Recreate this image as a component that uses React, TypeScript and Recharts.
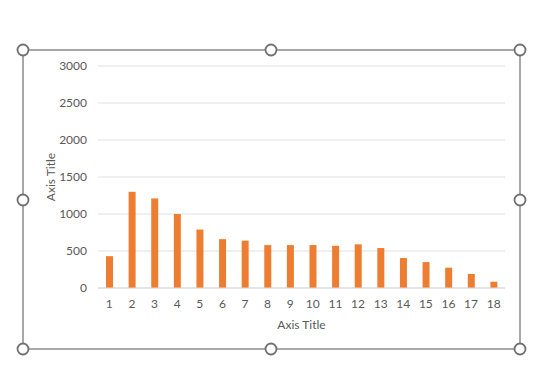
import { BarChart, Bar, XAxis, YAxis, CartesianGrid } from 'recharts';

const categories = ['1', '2', '3', '4', '5', '6', '7', '8', '9', '10', '11', '12', '13', '14', '15', '16', '17', '18'];
const values = [430, 1300, 1210, 1000, 790, 660, 640, 580, 580, 580, 570, 590, 540, 405, 350, 275, 190, 85];
const yTicks = [0, 500, 1000, 1500, 2000, 2500, 3000];

const data = categories.map((name, i) => ({ name, value: values[i] }));

const FONT = 'Lato, "Open Sans", sans-serif';
const TEXT = '#595959';

// selection frame drawn around the chart like the Excel screenshot
const handles = [
  [23, 50], [271, 50], [520, 50],
  [23, 200], [520, 200],
  [23, 349], [271, 349], [520, 349],
];

function SelectionFrame() {
  return (
    <svg width={533} height={378} style={{ position: 'absolute', left: 0, top: 0, pointerEvents: 'none' }}>
      <rect x={23} y={50} width={497} height={299} fill="none" stroke="#6f6f6f" strokeWidth={1.2} />
      {handles.map(([cx, cy], i) => (
        <circle key={i} cx={cx} cy={cy} r={5.5} fill="#fff" stroke="#6f6f6f" strokeWidth={1.8} />
      ))}
    </svg>
  );
}

export default function App() {
  return (
    <div style={{ position: 'absolute', left: 0, top: 0, width: 533, height: 378, background: '#fff' }}>
      <BarChart
        width={533}
        height={378}
        data={data}
        margin={{ top: 66, right: 28, left: 0, bottom: 45 }}
        style={{ fontFamily: FONT }}
      >
        <CartesianGrid vertical={false} stroke="#e0e0e0" />
        <XAxis
          dataKey="name"
          tickLine={false}
          axisLine={{ stroke: '#d9d9d9' }}
          tick={{ fill: TEXT, fontSize: 12 }}
          tickMargin={5}
          height={45}
          interval={0}
          label={{ value: 'Axis Title', position: 'insideBottom', offset: 4, fill: TEXT, fontSize: 12 }}
        />
        <YAxis
          width={98}
          domain={[0, 3000]}
          ticks={yTicks}
          tickLine={false}
          axisLine={false}
          tickMargin={5}
          tick={{ fill: TEXT, fontSize: 12 }}
          label={{
            value: 'Axis Title',
            angle: -90,
            position: 'insideLeft',
            offset: 51,
            fill: TEXT,
            fontSize: 12,
            style: { textAnchor: 'middle' },
          }}
        />
        <Bar dataKey="value" fill="#ED7D31" barSize={7} isAnimationActive={false} />
      </BarChart>
      <SelectionFrame />
    </div>
  );
}
